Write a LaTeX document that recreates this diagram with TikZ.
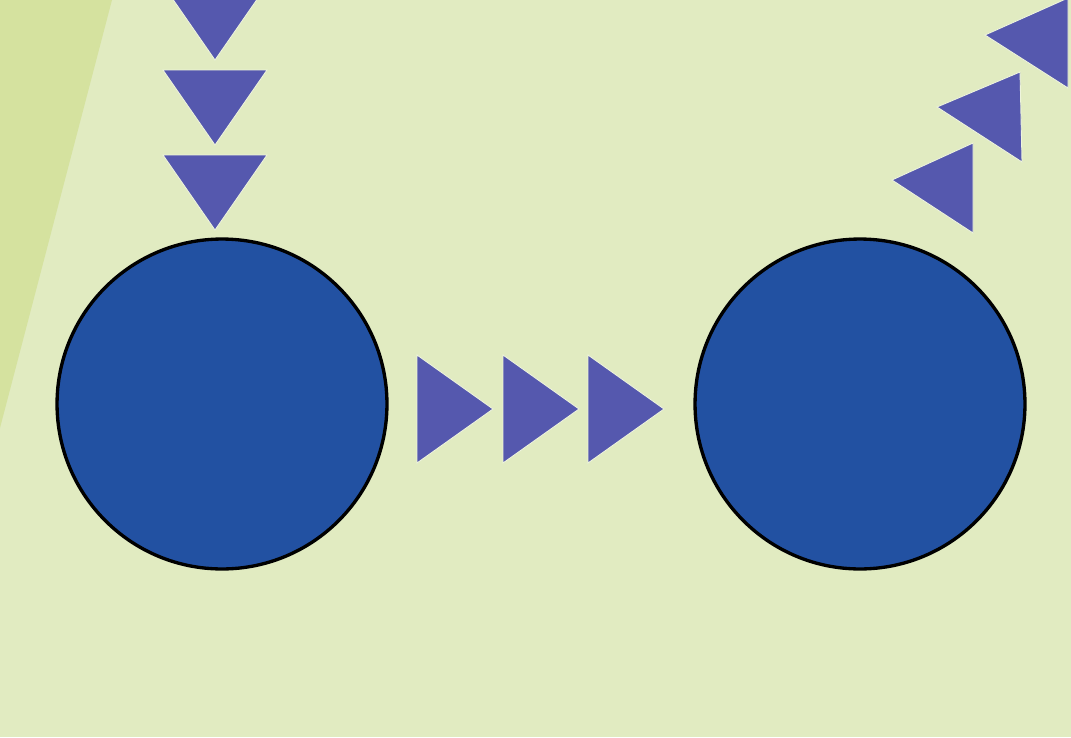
\documentclass[tikz,border=0pt]{standalone}
\definecolor{paleground}{HTML}{E1EBC1}
\definecolor{stripgreen}{HTML}{D5E29F}
\definecolor{cellblue}{HTML}{2251A2}
\definecolor{arrowblue}{HTML}{5558AE}
\tikzset{
  cell/.style={circle,draw=black,line width=1.9pt,fill=cellblue,minimum size=6.6cm,inner sep=0pt},
  tri/.style={fill=arrowblue,draw=white!45!paleground,line width=0.5pt,line join=miter}
}
\begin{document}
\begin{tikzpicture}[x=0.02cm,y=-0.02cm]
\fill[paleground] (0,0) rectangle (1071,737);
\useasboundingbox (0,0) rectangle (1071,737);
\fill[stripgreen] (0,0)--(112,0)--(0,428)--cycle;
% cells
\node[cell] (cellA) at (222,404) {};
\node[cell] (cellB) at (860,404) {};
% incoming arrows
\foreach \t in {-15,70,155}
  \filldraw[tri] (163,\t)--(267,\t)--(215,\t+75)--cycle;
% passing arrows
\foreach \l in {417,503,588}
  \filldraw[tri] (\l,355)--(\l,463)--(\l+76,409)--cycle;
% outgoing arrows
\filldraw[tri] (892,180)--(973,143)--(973,233)--cycle;
\filldraw[tri] (937,107)--(1020,72)--(1022,162)--cycle;
\filldraw[tri] (985,35)--(1068,-2)--(1068,88)--cycle;
\end{tikzpicture}
\end{document}
